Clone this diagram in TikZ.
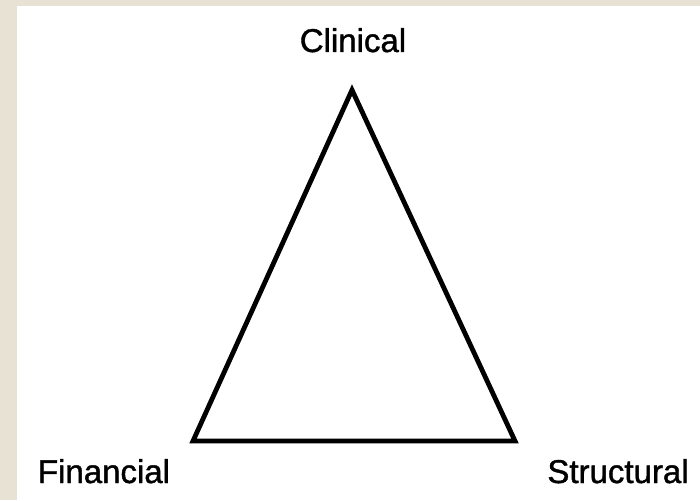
\documentclass[tikz,border=0pt]{standalone}
\usepackage{fontspec}
\setmainfont{Liberation Sans}
\newfontfamily\labelfont[FakeBold=1.2]{Liberation Sans}
\definecolor{paper}{RGB}{232,226,213}
\tikzset{
  corner label/.style={anchor=base, inner sep=0pt, font=\labelfont\fontsize{33}{40}\selectfont},
}
\begin{document}
\begin{tikzpicture}[x=1pt, y=-1pt]
    % background
    \fill[paper] (0,0) rectangle (700,500);
    \fill[white] (17,6) rectangle (700,500);
    \useasboundingbox (0,0) rectangle (700,500);

    \coordinate (C) at (352, 90);
    \coordinate (F) at (193, 441);
    \coordinate (S) at (515, 441);

    \node[corner label] (clinical) at (353, 52) {Clinical};
    \node[corner label] (financial) at (104, 483) {Financial};
    \node[corner label] (structural) at (618, 483) {Structural};

    \draw[line width=4.8pt, line join=miter] (C) -- (F) -- (S) -- cycle;
\end{tikzpicture}
\end{document}
